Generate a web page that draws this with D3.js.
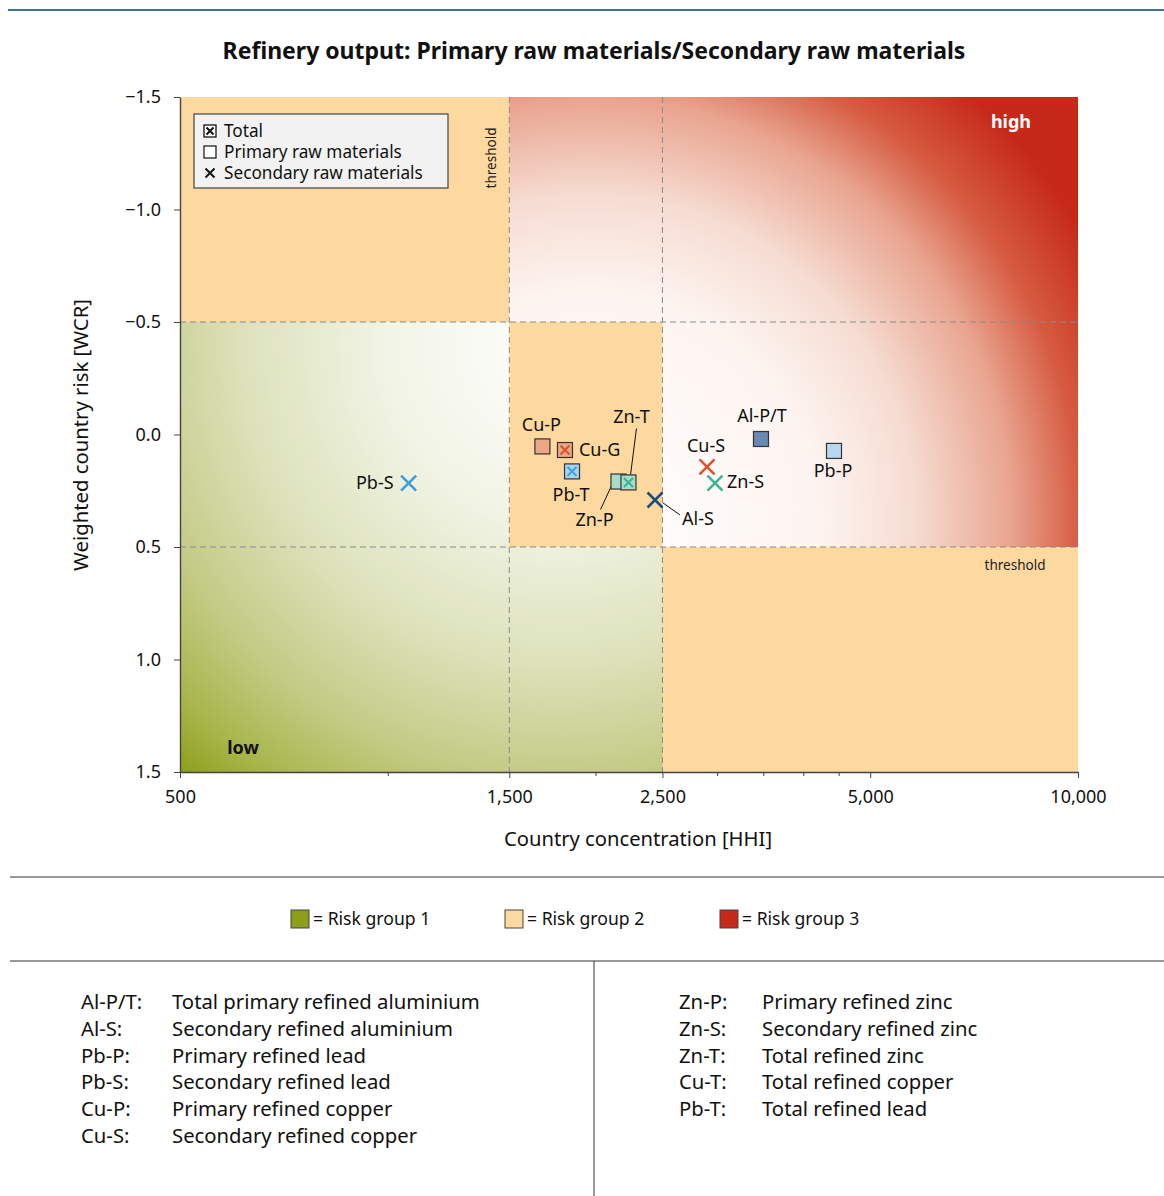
<!DOCTYPE html>
<html>
<head>
<meta charset="utf-8">
<script src="https://cdn.jsdelivr.net/npm/d3@7"></script>
<style>
  html, body { margin: 0; padding: 0; background: #fff; }
  svg { display: block; font-family: "Noto Sans", "Open Sans", sans-serif; }
</style>
</head>
<body>
<svg id="chart" width="1164" height="1196"></svg>
<script>
// Refinery output: country concentration (HHI) vs. weighted country risk (WCR)
const names = ["Al-P/T", "Al-S", "Pb-P", "Pb-S", "Pb-T", "Cu-P", "Cu-S", "Cu-G", "Zn-P", "Zn-S", "Zn-T"];
const hhiValues = [3473, 2439, 4431, 1072, 1849, 1675, 2901, 1806, 2159, 2979, 2232];
const wcrValues = [0.02, 0.291, 0.073, 0.216, 0.164, 0.053, 0.144, 0.069, 0.209, 0.216, 0.213];
const kinds = ["primary", "secondary", "primary", "secondary", "total", "primary", "secondary", "total", "primary", "secondary", "total"];
const fills = ["#6a88b3", null, "#b6d8f0", null, "#a5d3f1", "#eba786", null, "#eba786", "#a8dcc9", null, "#a8dcc9"];
const crosses = [null, "#1b4e7b", null, "#3d9fdb", "#3d9fdb", null, "#d9532b", "#d9532b", null, "#3ab594", "#3ab594"];

const xMajorTicks = [500, 1500, 2500, 5000, 10000];
const xMinorTicks = [1000, 2000, 3000, 3500, 4000, 4500];
const yTicks = [-1.5, -1.0, -0.5, 0.0, 0.5, 1.0, 1.5];
const hhiThresholds = [1500, 2500];
const wcrThresholds = [-0.5, 0.5];

const legendItems = ["Total", "Primary raw materials", "Secondary raw materials"];
const legendKinds = ["total", "primary", "secondary"];
const riskGroups = ["= Risk group 1", "= Risk group 2", "= Risk group 3"];
const riskColors = ["#8e9e1b", "#fdd89f", "#c8281a"];

const abbrLeft = ["Al-P/T:", "Al-S:", "Pb-P:", "Pb-S:", "Cu-P:", "Cu-S:"];
const descLeft = ["Total primary refined aluminium", "Secondary refined aluminium", "Primary refined lead",
                  "Secondary refined lead", "Primary refined copper", "Secondary refined copper"];
const abbrRight = ["Zn-P:", "Zn-S:", "Zn-T:", "Cu-T:", "Pb-T:"];
const descRight = ["Primary refined zinc", "Secondary refined zinc", "Total refined zinc",
                   "Total refined copper", "Total refined lead"];

// label placement per point: [dx, dy, anchor, leader line]
const labelLayout = {
  "Al-P/T": { dx: 1, dy: -23, anchor: "middle" },
  "Al-S":   { dx: 27, dy: 19, anchor: "start", leader: [[8, 3], [25, 15]] },
  "Pb-P":   { dx: -1, dy: 20, anchor: "middle" },
  "Pb-S":   { dx: -15, dy: 0, anchor: "end" },
  "Pb-T":   { dx: -1, dy: 23, anchor: "middle" },
  "Cu-P":   { dx: -1, dy: -22, anchor: "middle" },
  "Cu-S":   { dx: -1, dy: -21, anchor: "middle" },
  "Cu-G":   { dx: 14, dy: 0, anchor: "start" },
  "Zn-P":   { dx: -24, dy: 38, anchor: "middle", leader: [[-5, 0], [-18, 28]] },
  "Zn-S":   { dx: 12, dy: -1, anchor: "start" },
  "Zn-T":   { dx: 3, dy: -66, anchor: "middle", leader: [[8, -54], [2, -7]] }
};

const svg = d3.select("#chart");
const margin = { left: 180, right: 1078, top: 97, bottom: 772 };

const x = d3.scaleLog().domain([500, 10000]).range([margin.left, margin.right]);
const y = d3.scaleLinear().domain([-1.5, 1.5]).range([margin.top, margin.bottom]);

// top rule
svg.append("line").attr("x1", 8).attr("x2", 1164).attr("y1", 10).attr("y2", 10)
  .attr("stroke", "#44739a").attr("stroke-width", 2);

// title
svg.append("text").attr("x", 594).attr("y", 59).attr("text-anchor", "middle")
  .attr("font-size", 23).attr("font-weight", "bold").attr("fill", "#111")
  .text("Refinery output: Primary raw materials/Secondary raw materials");

const defs = svg.append("defs");
const redGrad = defs.append("radialGradient").attr("id", "gradHigh")
  .attr("gradientUnits", "userSpaceOnUse").attr("cx", 590).attr("cy", 520).attr("r", 570);
[[0, "#ffffff"], [0.4, "#fdf4f0"], [0.57, "#f6dcd2"], [0.74, "#e9a48f"], [0.86, "#d65b41"], [1, "#c6291a"]]
  .forEach(([o, c]) => redGrad.append("stop").attr("offset", o).attr("stop-color", c));
const greenGrad = defs.append("radialGradient").attr("id", "gradLow")
  .attr("gradientUnits", "userSpaceOnUse").attr("cx", 560).attr("cy", 345).attr("r", 575);
[[0, "#ffffff"], [0.3, "#f2f4e6"], [0.55, "#dde2bb"], [0.75, "#c4cb86"], [0.9, "#a8b54a"], [1, "#8c9d18"]]
  .forEach(([o, c]) => greenGrad.append("stop").attr("offset", o).attr("stop-color", c));

// risk zones
const [t1, t2] = hhiThresholds;
const [w1, w2] = wcrThresholds;
const zone = pts => d3.line()(pts.map(([h, w]) => [x(h), y(w)])) + "Z";
const g = svg.append("g");
g.append("rect").attr("x", x(500)).attr("y", y(-1.5))
  .attr("width", x(10000) - x(500)).attr("height", y(1.5) - y(-1.5)).attr("fill", "#fdd89f");
g.append("path").attr("fill", "url(#gradHigh)")
  .attr("d", zone([[t1, -1.5], [10000, -1.5], [10000, w2], [t2, w2], [t2, w1], [t1, w1]]));
g.append("path").attr("fill", "url(#gradLow)")
  .attr("d", zone([[500, w1], [t1, w1], [t1, w2], [t2, w2], [t2, 1.5], [500, 1.5]]));

// threshold lines
hhiThresholds.forEach(h => g.append("line").attr("x1", x(h)).attr("x2", x(h))
  .attr("y1", y(-1.5)).attr("y2", y(1.5)).attr("stroke", "#8a8a8a").attr("stroke-dasharray", "6,4"));
wcrThresholds.forEach(w => g.append("line").attr("x1", x(500)).attr("x2", x(10000))
  .attr("y1", y(w)).attr("y2", y(w)).attr("stroke", "#8a8a8a").attr("stroke-dasharray", "6,4"));

svg.append("text").attr("transform", `translate(${x(t1) - 18},${y(-1.5) + 61}) rotate(-90)`)
  .attr("text-anchor", "middle").attr("dy", "0.35em").attr("font-size", 13.5).attr("fill", "#222").text("threshold");
svg.append("text").attr("x", 1015).attr("y", y(w2) + 18).attr("text-anchor", "middle")
  .attr("dy", "0.35em").attr("font-size", 13.5).attr("fill", "#222").text("threshold");

svg.append("text").attr("x", 1011).attr("y", 122).attr("dy", "0.35em").attr("text-anchor", "middle")
  .attr("font-size", 18).attr("font-weight", "bold").attr("fill", "#fff").text("high");
svg.append("text").attr("x", 243).attr("y", 748).attr("dy", "0.35em").attr("text-anchor", "middle")
  .attr("font-size", 18).attr("font-weight", "bold").attr("fill", "#111").text("low");

// axes
const fmt = d3.format(",");
svg.append("g").attr("transform", `translate(0,${margin.bottom})`)
  .call(d3.axisBottom(x).tickValues(xMajorTicks).tickFormat(fmt).tickSize(6).tickSizeOuter(0).tickPadding(12));
svg.append("g").attr("transform", `translate(0,${margin.bottom})`)
  .call(d3.axisBottom(x).tickValues(xMinorTicks).tickFormat("").tickSize(4).tickSizeOuter(0))
  .select(".domain").remove();
const yFmt = v => (v < 0 ? "\u2212" : "") + Math.abs(v).toFixed(1);
svg.append("g").attr("transform", `translate(${margin.left},0)`)
  .call(d3.axisLeft(y).tickValues(yTicks).tickFormat(yFmt).tickSize(6).tickSizeOuter(0).tickPadding(13));
svg.selectAll(".tick text").attr("font-size", 18).attr("font-family", "Noto Sans").attr("fill", "#111");
svg.selectAll(".tick line").attr("stroke", "#444");
svg.selectAll(".domain").attr("stroke", "#444").attr("stroke-width", 1.4);

svg.append("text").attr("transform", `translate(88,435) rotate(-90)`).attr("text-anchor", "middle")
  .attr("font-size", 20.3).attr("fill", "#111").text("Weighted country risk [WCR]");
svg.append("text").attr("x", 638).attr("y", 846).attr("text-anchor", "middle")
  .attr("font-size", 20.2).attr("fill", "#111").text("Country concentration [HHI]");

// markers
function drawMarker(sel, kind, cx, cy, size, fill, cross, sw) {
  const h = size / 2;
  if (kind !== "secondary") {
    sel.append("rect").attr("x", cx - h).attr("y", cy - h).attr("width", size).attr("height", size)
      .attr("fill", fill).attr("stroke", "#333").attr("stroke-width", 1.2);
  }
  if (kind !== "primary") {
    const c = kind === "total" ? h - 3 : h;
    sel.append("path").attr("d", `M${cx - c},${cy - c}L${cx + c},${cy + c}M${cx - c},${cy + c}L${cx + c},${cy - c}`)
      .attr("stroke", cross).attr("stroke-width", sw).attr("fill", "none");
  }
}

const pts = svg.append("g");
names.forEach((n, i) => {
  const cx = x(hhiValues[i]), cy = y(wcrValues[i]);
  const lay = labelLayout[n];
  if (lay.leader) {
    pts.append("line").attr("x1", cx + lay.leader[0][0]).attr("y1", cy + lay.leader[0][1])
      .attr("x2", cx + lay.leader[1][0]).attr("y2", cy + lay.leader[1][1])
      .attr("stroke", "#111").attr("stroke-width", 1);
  }
});
names.forEach((n, i) => {
  const cx = x(hhiValues[i]), cy = y(wcrValues[i]);
  drawMarker(pts, kinds[i], cx, cy, 15, fills[i], crosses[i], kinds[i] === "total" ? 2 : 2.6);
  const lay = labelLayout[n];
  pts.append("text").attr("x", cx + lay.dx).attr("y", cy + lay.dy).attr("dy", "0.35em")
    .attr("text-anchor", lay.anchor).attr("font-size", 18).attr("fill", "#111").text(n);
});

// marker legend
const lg = svg.append("g");
lg.append("rect").attr("x", 194).attr("y", 114).attr("width", 254).attr("height", 74)
  .attr("fill", "#f2f2f2").attr("stroke", "#444").attr("stroke-width", 1.2);
legendItems.forEach((t, i) => {
  const cy = 131 + i * 21;
  const k = legendKinds[i];
  if (k === "total") {
    lg.append("rect").attr("x", 204).attr("y", cy - 6).attr("width", 12).attr("height", 12)
      .attr("fill", "#fff").attr("stroke", "#111").attr("stroke-width", 1.3);
    lg.append("path").attr("d", `M206.5,${cy - 3.5}L213.5,${cy + 3.5}M206.5,${cy + 3.5}L213.5,${cy - 3.5}`)
      .attr("stroke", "#111").attr("stroke-width", 2);
  } else if (k === "primary") {
    lg.append("rect").attr("x", 204).attr("y", cy - 6).attr("width", 12).attr("height", 12)
      .attr("fill", "#fff").attr("stroke", "#111").attr("stroke-width", 1.2);
  } else {
    lg.append("path").attr("d", `M205.5,${cy - 4.5}L214.5,${cy + 4.5}M205.5,${cy + 4.5}L214.5,${cy - 4.5}`)
      .attr("stroke", "#111").attr("stroke-width", 2);
  }
  lg.append("text").attr("x", 224).attr("y", cy).attr("dy", "0.35em").attr("font-size", 17.2)
    .attr("fill", "#111").text(t);
});

// lower panel rules
svg.append("line").attr("x1", 10).attr("x2", 1164).attr("y1", 877).attr("y2", 877).attr("stroke", "#333");
svg.append("line").attr("x1", 10).attr("x2", 1164).attr("y1", 961).attr("y2", 961).attr("stroke", "#333");
svg.append("line").attr("x1", 594).attr("x2", 594).attr("y1", 961).attr("y2", 1196).attr("stroke", "#333");

// risk group legend
const rgX = [291, 505, 720];
riskGroups.forEach((t, i) => {
  svg.append("rect").attr("x", rgX[i]).attr("y", 910).attr("width", 18).attr("height", 18)
    .attr("fill", riskColors[i]).attr("stroke", "#444").attr("stroke-width", 1);
  svg.append("text").attr("x", rgX[i] + 22).attr("y", 919).attr("dy", "0.35em")
    .attr("font-size", 17.6).attr("fill", "#111").text(t);
});

// abbreviation list
function abbrColumn(abbr, desc, xa, xd) {
  abbr.forEach((a, i) => {
    const cy = 1002 + i * 26.7;
    svg.append("text").attr("x", xa).attr("y", cy).attr("dy", "0.35em").attr("font-size", 20.3)
      .attr("fill", "#111").text(a);
    svg.append("text").attr("x", xd).attr("y", cy).attr("dy", "0.35em").attr("font-size", 20.3)
      .attr("fill", "#111").text(desc[i]);
  });
}
abbrColumn(abbrLeft, descLeft, 81, 172);
abbrColumn(abbrRight, descRight, 679, 762);
</script>
</body>
</html>
